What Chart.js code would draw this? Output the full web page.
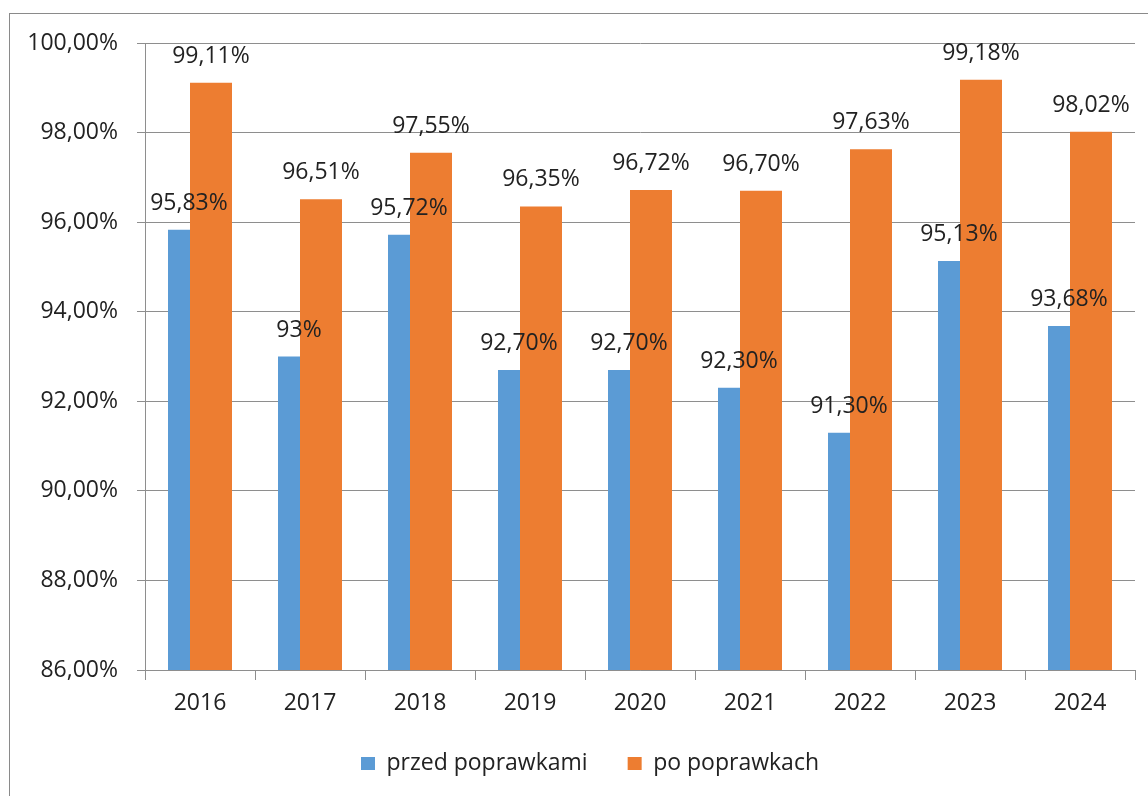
<!DOCTYPE html>
<html><head><meta charset="utf-8">
<script src="https://cdn.jsdelivr.net/npm/chart.js@4"></script>
<style>
html,body{margin:0;padding:0;background:#fff;overflow:hidden;width:1148px;height:796px;}
#frame{position:absolute;left:9px;top:13px;width:1160px;height:800px;border:1px solid #8a8a8a;background:#fff;}
canvas{display:block}
</style></head><body>
<div id="frame"><canvas id="c" width="1160" height="800"></canvas></div>
<script>
const categories = ['2016','2017','2018','2019','2020','2021','2022','2023','2024'];
const seriesNames = ['przed poprawkami','po poprawkach'];
const przedValues = [95.83, 93, 95.72, 92.70, 92.70, 92.30, 91.30, 95.13, 93.68];
const poValues = [99.11, 96.51, 97.55, 96.35, 96.72, 96.70, 97.63, 99.18, 98.02];
const przedLabels = ['95,83%','93%','95,72%','92,70%','92,70%','92,30%','91,30%','95,13%','93,68%'];
const poLabels = ['99,11%','96,51%','97,55%','96,35%','96,72%','96,70%','97,63%','99,18%','98,02%'];
const yTickValues = [86, 88, 90, 92, 94, 96, 98, 100];
const yTickLabels = ['86,00%','88,00%','90,00%','92,00%','94,00%','96,00%','98,00%','100,00%'];

const FONT = "'Open Sans', sans-serif";
const TXT = '#222222';
const LINE = '#8e8e8e';

const dataLabelPlugin = {
  id: 'dataLabels',
  afterDatasetsDraw(chart) {
    const ctx = chart.ctx;
    const xs = chart.scales.x;
    const catW = xs.getPixelForValue(1) - xs.getPixelForValue(0);
    ctx.save();
    ctx.font = '23px ' + FONT;
    ctx.fillStyle = TXT;
    ctx.textAlign = 'center';
    ctx.textBaseline = 'alphabetic';
    [przedLabels, poLabels].forEach((labels, di) => {
      const meta = chart.getDatasetMeta(di);
      meta.data.forEach((bar, i) => {
        const cx = xs.getPixelForValue(i) + (di === 0 ? -1 : 1) * catW * 0.1;
        ctx.fillText(labels[i], cx, bar.y - 20);
      });
    });
    ctx.restore();
  }
};

function zeroPad(scale) {
  scale.paddingTop = 0; scale.paddingBottom = 0; scale.paddingLeft = 0; scale.paddingRight = 0;
}

new Chart(document.getElementById('c'), {
  type: 'bar',
  data: {
    labels: categories,
    datasets: [
      { label: seriesNames[0], data: przedValues, backgroundColor: '#5B9BD5', borderWidth: 0,
        categoryPercentage: 84/110, barPercentage: 22/42 },
      { label: seriesNames[1], data: poValues, backgroundColor: '#ED7D31', borderWidth: 0,
        categoryPercentage: 0.4, barPercentage: 42/22 }
    ]
  },
  options: {
    responsive: false,
    devicePixelRatio: 1,
    animation: false,
    layout: { padding: { left: 0, right: 0, top: 29, bottom: 29 } },
    plugins: {
      tooltip: { enabled: false },
      legend: {
        position: 'bottom',
        labels: { boxWidth: 14, boxHeight: 13, padding: 40, color: TXT, font: { family: FONT, size: 23 } }
      }
    },
    scales: {
      x: {
        grid: { drawOnChartArea: false, drawTicks: true, tickLength: 10, color: LINE, offset: true },
        border: { color: LINE },
        ticks: { color: TXT, font: { family: FONT, size: 23 }, padding: 10 },
        afterFit(scale) { scale.height = 42; zeroPad(scale); }
      },
      y: {
        min: 86, max: 100,
        grid: { color: LINE, tickLength: 8, drawTicks: true },
        border: { color: LINE },
        ticks: { color: TXT, font: { family: FONT, size: 23 }, padding: 19,
          callback: (v) => { const k = yTickValues.indexOf(v); return k >= 0 ? yTickLabels[k] : ''; } },
        afterBuildTicks(scale) { scale.ticks = yTickValues.map(v => ({ value: v })); },
        afterFit(scale) { scale.width = 135; zeroPad(scale); }
      },
      spacer: {
        type: 'linear', position: 'right', display: true,
        grid: { drawOnChartArea: false, drawTicks: false, display: false },
        border: { display: false },
        ticks: { display: false },
        afterFit(scale) { scale.width = 35; zeroPad(scale); }
      }
    }
  },
  plugins: [dataLabelPlugin]
});
</script>
</body></html>
